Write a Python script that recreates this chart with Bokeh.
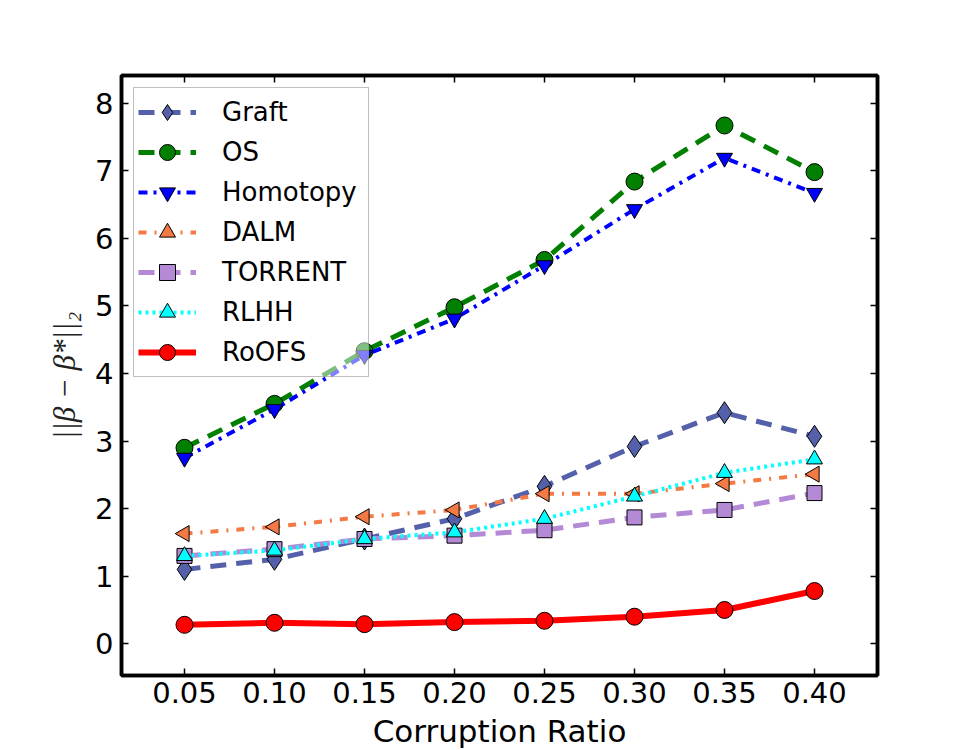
import numpy as np
from bokeh.plotting import figure
from bokeh.models import (Range1d, FixedTicker, NumeralTickFormatter, LinearAxis,
                          Legend, LegendItem)
from bokeh.embed import file_html
from bokeh.resources import INLINE

# Corruption ratios on the x axis
ratios = [0.05, 0.10, 0.15, 0.20, 0.25, 0.30, 0.35, 0.40]
x_ticks = [0.05, 0.10, 0.15, 0.20, 0.25, 0.30, 0.35, 0.40]
y_ticks = [0, 1, 2, 3, 4, 5, 6, 7, 8]

# Recovery error ||beta - beta*||_2 for each method
graft = [1.10, 1.25, 1.55, 1.85, 2.33, 2.92, 3.42, 3.07]
os_err = [2.90, 3.55, 4.33, 4.98, 5.68, 6.84, 7.67, 6.98]
homotopy = [2.75, 3.47, 4.27, 4.81, 5.60, 6.43, 7.19, 6.67]
dalm = [1.63, 1.73, 1.88, 1.98, 2.22, 2.22, 2.37, 2.51]
torrent = [1.30, 1.40, 1.55, 1.60, 1.68, 1.87, 1.98, 2.23]
rlhh = [1.30, 1.38, 1.55, 1.65, 1.85, 2.18, 2.53, 2.73]
roofs = [0.28, 0.31, 0.29, 0.32, 0.34, 0.40, 0.50, 0.78]

FONT = "DejaVu Sans"

p = figure(frame_width=756, frame_height=600,
           min_border_left=121, min_border_right=98,
           min_border_top=75, min_border_bottom=75,
           x_range=Range1d(0.015, 0.435), y_range=Range1d(-0.47, 8.41),
           output_backend="svg", toolbar_location=None,
           background_fill_color="white", border_fill_color="white")

p.xgrid.visible = False
p.ygrid.visible = False
p.outline_line_color = "black"
p.outline_line_width = 3.5


def style_axis(ax, ticks, show_labels):
    ax.ticker = FixedTicker(ticks=ticks)
    ax.axis_line_color = "black"
    ax.axis_line_width = 3.5
    ax.major_tick_in = 7
    ax.major_tick_out = 0
    ax.major_tick_line_width = 1.5
    ax.major_tick_line_color = "black"
    ax.minor_tick_line_color = None
    if show_labels:
        ax.major_label_text_font = FONT
        ax.major_label_text_font_size = "29px"
        ax.major_label_text_color = "black"
    else:
        # tick marks only on the mirrored sides
        ax.major_label_text_color = None
        ax.major_label_text_font_size = "10px"
        ax.major_label_standoff = 0


xax = p.xaxis[0]
yax = p.yaxis[0]
style_axis(xax, x_ticks, True)
style_axis(yax, y_ticks, True)
xax.formatter = NumeralTickFormatter(format="0.00")
xax.major_label_standoff = 6
yax.major_label_standoff = 8

xax.axis_label = "Corruption Ratio"
xax.axis_label_text_font = FONT
xax.axis_label_text_font_size = "31px"
xax.axis_label_text_font_style = "normal"
xax.axis_label_text_color = "black"
xax.axis_label_standoff = 7

yax.axis_label = "||β − β*||₂"
yax.axis_label_text_font = "Liberation Serif"
yax.axis_label_text_font_size = "31px"
yax.axis_label_text_font_style = "italic"
yax.axis_label_text_color = "#222222"
yax.axis_label_standoff = 10

top_ax = LinearAxis()
style_axis(top_ax, x_ticks, False)
p.add_layout(top_ax, "above")
right_ax = LinearAxis()
style_axis(right_ax, y_ticks, False)
p.add_layout(right_ax, "right")

series = [
    ("Graft", graft, "#5461aa", "16 10", 5, "diamond", 22, 0.0),
    ("OS", os_err, "#007f00", "16 10", 5, "circle", 17, 0.0),
    ("Homotopy", homotopy, "#0000ff", "9 6 3 6", 4, "inverted_triangle", 16, 0.0),
    ("DALM", dalm, "#f47a45", "8 8 2 8", 4, "triangle", 16, np.pi / 2),
    ("TORRENT", torrent, "#b48ad6", "16 10", 5, "square", 15, 0.0),
    ("RLHH", rlhh, "#00ffff", "3 4", 4, "triangle", 16, 0.0),
    ("RoOFS", roofs, "#ff0000", "solid", 6, "circle", 17, 0.0),
]

items = []
for name, vals, color, dash, lw, marker, size, ang in series:
    ln = p.line(ratios, vals, line_color=color, line_width=lw, line_dash=dash)
    sc = p.scatter(ratios, vals, marker=marker, size=size, angle=ang,
                   fill_color=color, line_color="black", line_width=1)
    items.append(LegendItem(label=name, renderers=[ln, sc]))

legend = Legend(items=items, location="top_left", margin=12,
                label_text_font=FONT, label_text_font_size="26px",
                label_text_color="black",
                glyph_width=58, glyph_height=40, label_height=40,
                label_width=142, label_standoff=26, spacing=0, padding=4,
                border_line_color="#7f7f7f", border_line_width=1.5,
                background_fill_color="white", background_fill_alpha=0.5)
p.add_layout(legend, "center")

open("out.html", "w").write(file_html(p, INLINE))
